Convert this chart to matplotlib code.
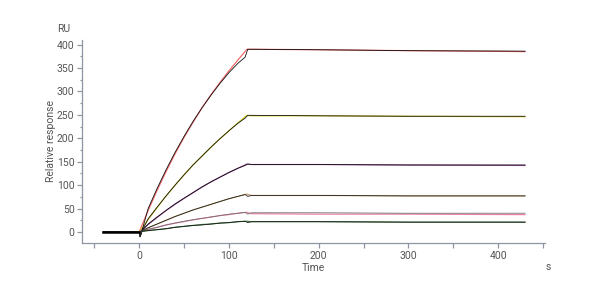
import matplotlib
matplotlib.use('Agg')
import matplotlib.pyplot as plt
from matplotlib.ticker import MultipleLocator

plt.rcParams['font.family'] = ['Roboto', 'DejaVu Sans']

# sensorgram data (s, RU)
t_data = [-40, 0, 1, 3, 10, 20, 30, 40, 50, 60, 70, 80, 90, 100, 110, 118, 121, 125, 200, 300, 430]
data_1 = [0, 0, -10, 2, 50, 93, 133, 170, 204, 236, 265, 292, 317, 340, 360, 373, 390, 390, 389, 387, 386]
data_2 = [0, 0, -10, 2, 28, 53, 77, 100, 122, 143, 162, 181, 199, 216, 232, 243, 249, 249, 248, 247, 247]
data_3 = [0, 0, -10, 2, 17, 32, 46, 60, 72, 84, 96, 107, 117, 127, 136, 142, 145, 144, 144, 143, 143]
data_4 = [0, 0, -10, 2, 9, 17, 25, 33, 40, 47, 53, 59, 65, 71, 76, 80, 76, 78, 78, 77, 77]
data_5 = [0, 0, -10, 2, 6, 10, 15, 19, 23, 26, 29, 32, 35, 38, 40, 42, 38, 41, 41, 40, 40]
data_6 = [0, 0, -10, 2, 3, 5, 7, 10, 12, 14, 15, 17, 19, 20, 22, 23, 20, 22, 22, 21, 21]

# fitted curves
t_fit = [0, 10, 20, 30, 40, 50, 60, 70, 80, 90, 100, 110, 120, 125, 200, 300, 430]
fit_1 = [0, 46, 89, 129, 167, 202, 234, 265, 293, 319, 344, 367, 390, 390, 389, 387, 385]
fit_2 = [0, 27, 52, 77, 100, 122, 143, 162, 181, 199, 216, 233, 249, 248, 248, 247, 246]
fit_3 = [0, 16, 31, 46, 59, 72, 84, 96, 107, 117, 127, 136, 145, 144, 144, 143, 142]
fit_4 = [0, 9, 17, 25, 33, 40, 47, 53, 59, 65, 71, 76, 81, 78, 78, 77, 77]
fit_5 = [0, 5, 10, 15, 19, 22, 26, 29, 32, 35, 37, 40, 42, 39, 38, 38, 37]
fit_6 = [0, 3, 5, 7, 10, 12, 14, 16, 17, 19, 20, 22, 23, 22, 22, 21, 21]

data_sets = [data_1, data_2, data_3, data_4, data_5, data_6]
fit_sets = [fit_1, fit_2, fit_3, fit_4, fit_5, fit_6]
fit_colors = ['#f26262', '#d8cc1c', '#a04ca0', '#c4a46a', '#f27fa6', '#3f7a3f']
data_colors = ['#111111', '#111111', '#111111', '#222222', '#6e6e6e', '#1a1a1a']

fig = plt.figure(figsize=(6, 3), dpi=100)
ax = fig.add_axes([0.137, 0.19, 0.771, 0.677])

for f, c in zip(fit_sets, fit_colors):
    ax.plot(t_fit, f, color=c, lw=0.85, zorder=2)
for d, c in zip(data_sets, data_colors):
    ax.plot(t_data, d, color=c, lw=0.6, zorder=3)
# baseline is drawn over by all traces
ax.plot(t_data[:2], data_1[:2], color='black', lw=1.8, zorder=4)

ax.set_xlim(-63.5, 452)
ax.set_ylim(-23.5, 410)

spine_c = '#8f96a3'
for s in ['top', 'right']:
    ax.spines[s].set_visible(False)
for s in ['left', 'bottom']:
    ax.spines[s].set_color(spine_c)
    ax.spines[s].set_linewidth(0.9)

ax.xaxis.set_major_locator(MultipleLocator(100))
ax.xaxis.set_minor_locator(MultipleLocator(50))
ax.yaxis.set_major_locator(MultipleLocator(50))
ax.yaxis.set_minor_locator(MultipleLocator(25))
ax.tick_params(axis='both', which='major', colors=spine_c, labelcolor='#555555',
               labelsize=7.5, length=3.5, width=0.9, pad=2)
ax.tick_params(axis='x', which='minor', colors=spine_c, length=3.5, width=0.9)
ax.tick_params(axis='y', which='minor', colors=spine_c, length=1.5, width=0.9)
ax.set_xticks([0, 100, 200, 300, 400])
ax.set_yticks([0, 50, 100, 150, 200, 250, 300, 350, 400])

ax.set_xlabel('Time', fontsize=7.5, color='#555555', labelpad=2)
ax.set_ylabel('Relative response', fontsize=7.5, color='#555555', labelpad=1)
fig.text(0.095, 0.885, 'RU', fontsize=7.5, color='#555555', ha='left', va='bottom')
fig.text(0.913, 0.095, 's', fontsize=7.5, color='#555555', ha='center', va='bottom')

fig.savefig('out.png', dpi=100)
